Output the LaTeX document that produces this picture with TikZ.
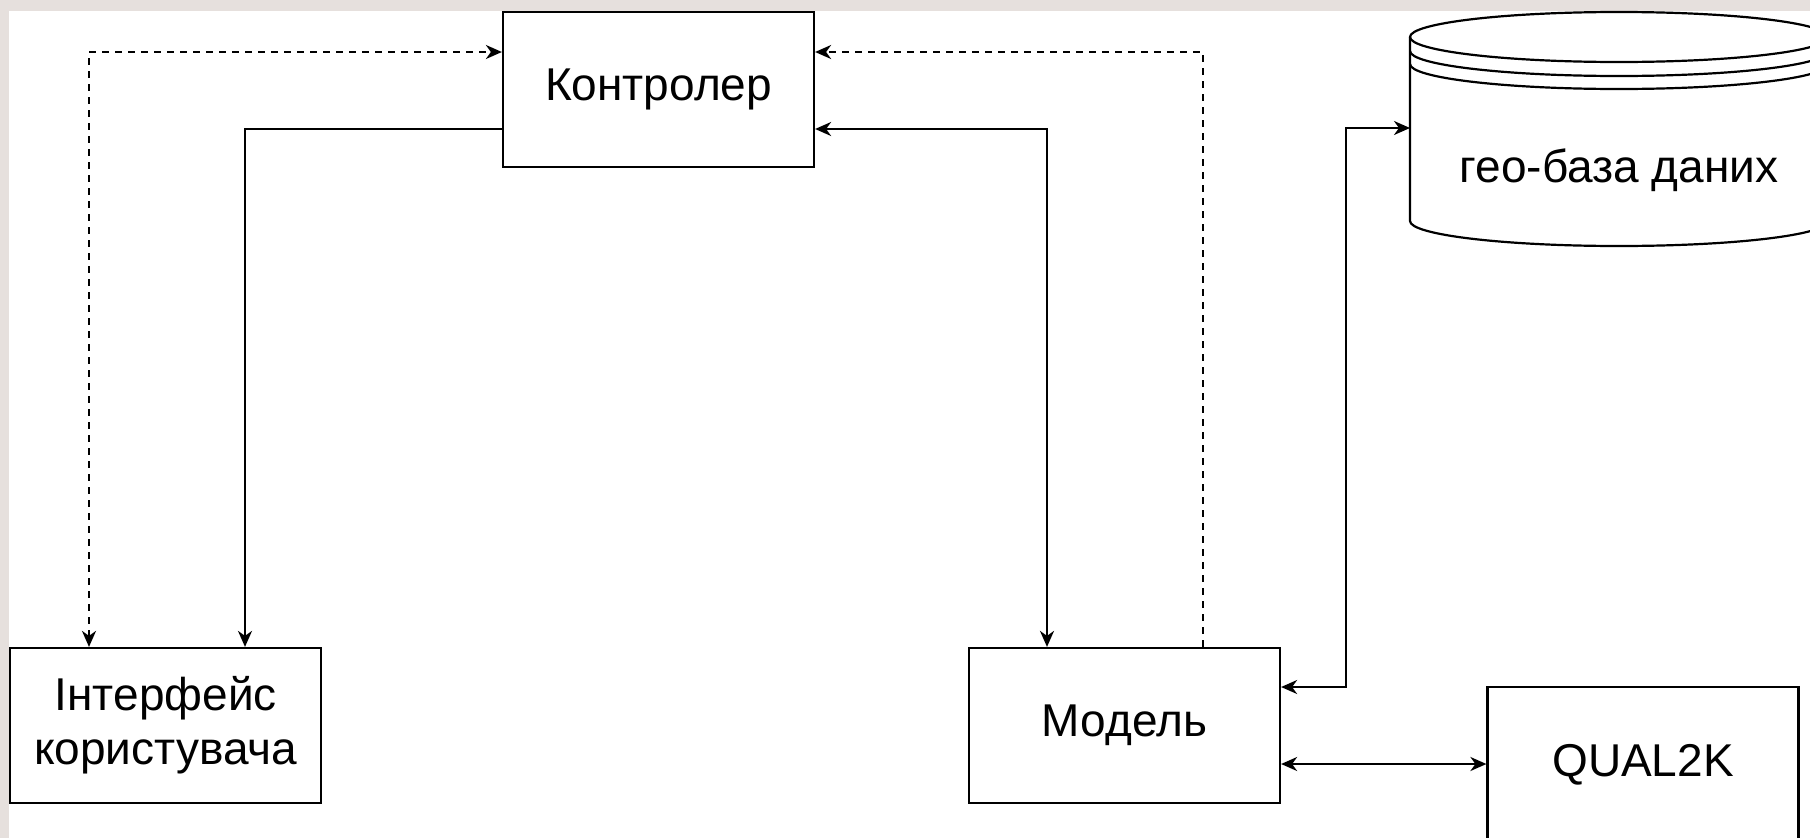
\documentclass[tikz,border=0pt]{standalone}
\usepackage{fontspec}
\setmainfont{Liberation Sans}
\usetikzlibrary{arrows.meta}
\definecolor{framegray}{RGB}{230,224,221}
\begin{document}
\begin{tikzpicture}[x=1pt,y=-1pt,
  >={Stealth[length=16pt,width=14pt,inset=5pt]},
  lbl/.style={font=\fontsize{46}{54}\selectfont, align=center},
  box/.style={lbl, draw, line width=2.2pt, inner sep=0pt, minimum width=311pt, minimum height=155pt},
  conn/.style={line width=2.2pt},
  dsh/.style={line width=2.2pt, dash pattern=on 7pt off 6pt},
  shapeline/.style={line width=2.2pt}
]
\useasboundingbox (0,0) rectangle (1810,838);
\clip (0,0) rectangle (1810,838);
\fill[framegray] (0,0) rectangle (1810,838);
\fill[white] (8.5,11) rectangle (1810,838);

% boxes
\node[box] (ctrl) at (658.5,89.5) {Контролер};
\node[box] (ui) at (165.75,725.5) {Інтерфейс\\користувача};
\node[box] (mod) at (1124.5,725.5) {Модель};
\node[box] (q2k) at (1643,764.5) {QUAL2K};

% data store (cylinder)
\draw[shapeline] (1619,37) ellipse [x radius=209, y radius=25];
\draw[shapeline] (1410,51) .. controls (1410,64.8) and (1503.6,76) .. (1619,76) .. controls (1734.4,76) and (1828,64.8) .. (1828,51);
\draw[shapeline] (1410,64) .. controls (1410,77.8) and (1503.6,89) .. (1619,89) .. controls (1734.4,89) and (1828,77.8) .. (1828,64);
\draw[shapeline] (1410,37) -- (1410,221) .. controls (1410,234.8) and (1503.6,246) .. (1619,246) .. controls (1734.4,246) and (1828,234.8) .. (1828,221) -- (1828,37);
\node[lbl, inner sep=0pt] (db) at (1619,170) {гео-база даних};
\coordinate (dbw) at (1410,128);
\coordinate (dbturn) at (1346,128);

% connectors
\draw[dsh,<->] (ui.north -| 89,0) |- (ctrl.west |- 0,52);
\draw[conn,->] (ctrl.west |- 0,129) -| (ui.north -| 245,0);
\draw[conn,<->] (ctrl.east |- 0,129) -| (mod.north -| 1047,0);
\draw[dsh,->] (mod.north -| 1203,0) |- (ctrl.east |- 0,52);
\draw[conn,<->] (mod.east |- 0,687) -| (dbturn) -- (dbw);
\draw[conn,<->] (mod.east |- 0,764) -- (q2k.west |- 0,764);
\end{tikzpicture}
\end{document}
